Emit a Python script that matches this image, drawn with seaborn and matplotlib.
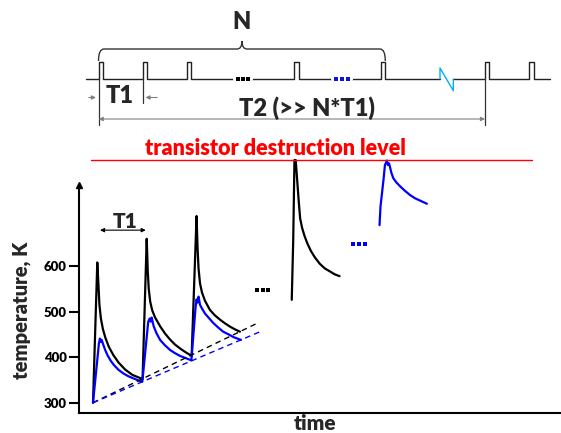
import numpy as np
import pandas as pd
import matplotlib
matplotlib.use("Agg")
import matplotlib.pyplot as plt
from matplotlib.path import Path
from matplotlib.patches import PathPatch
import seaborn as sns

# --- DATA (time in units of T1, temperature in K) ---
black_t = [0, 0.087, 0.11, 0.13, 0.16, 0.2, 0.25, 0.32, 0.41, 0.52, 0.65, 0.8, 1.005,
           1.089, 1.11, 1.13, 1.16, 1.2, 1.26, 1.36, 1.46, 1.56, 1.66, 1.78, 1.89, 2.0,
           2.10, 2.12, 2.14, 2.17, 2.21, 2.27, 2.37, 2.47, 2.58, 2.68, 2.78, 2.88, 2.98]
black_T = [300, 608, 560, 515, 485, 462, 443, 423, 405, 388, 373, 361, 352,
           660, 590, 550, 522, 503, 487, 468, 452, 439, 428, 418, 410, 403,
           710, 640, 595, 562, 542, 524, 504, 492, 482, 474, 467, 461, 456]

blue_t = [0, 0.12, 0.14, 0.16, 0.175, 0.21, 0.25, 0.3, 0.36, 0.43, 0.52, 0.62, 0.72, 0.83, 0.92, 1.0,
          1.12, 1.15, 1.17, 1.19, 1.23, 1.29, 1.36, 1.46, 1.56, 1.66, 1.76, 1.88, 1.995,
          2.08, 2.10, 2.12, 2.14, 2.17, 2.22, 2.27, 2.35, 2.44, 2.54, 2.64, 2.75, 2.85, 3.0]
blue_T = [300, 430, 441, 434, 438, 427, 415, 403, 392, 382, 372, 364, 358, 353, 349, 346,
          478, 485, 478, 487, 468, 452, 438, 426, 416, 409, 403, 398, 393,
          510, 527, 520, 533, 515, 505, 496, 486, 475, 465, 456, 450, 444, 438]

black_last_t = [4.03, 4.06, 4.085, 4.11, 4.13, 4.17, 4.2, 4.24, 4.29, 4.35, 4.42, 4.5, 4.6, 4.7,
                4.81, 4.9, 5.0]
black_last_T = [526, 657, 833, 833, 804, 745, 705, 684, 666, 649, 633, 619, 605, 595,
                588, 582, 578]

blue_last_t = [5.81, 5.83, 5.86, 5.89, 5.92, 5.96, 5.98, 6.0, 6.02, 6.05, 6.09, 6.15, 6.23,
               6.33, 6.43, 6.53, 6.63, 6.77]
blue_last_T = [690, 731, 760, 789, 822, 832, 822, 826, 819, 805, 793, 784, 775,
               765, 756, 749, 744, 737]

trend_black_t = [0, 3.32]
trend_black_T = [300, 474]
trend_blue_t = [0, 3.39]
trend_blue_T = [300, 456]

destruction_T = 833
destruction_t = [-0.04, 8.9]

black_dots_t = [3.33, 3.44, 3.55]
black_dots_T = [548, 548, 548]
blue_dots_t = [5.27, 5.40, 5.52]
blue_dots_T = [649, 649, 649]

yticks = [300, 400, 500, 600]

# top pulse-train sketch (in sketch units)
pulse_starts = [98.7, 142.7, 186.7, 294.3, 381.0, 485.0, 529.3]
pulse_width = 4.3
gaps = [(235.7, 250.0, "black"), (334.0, 350.0, "blue")]

sns.set_theme(style="white")
plt.rcParams['font.family'] = ['Lato', 'DejaVu Sans']
W = "heavy"

fig = plt.figure(figsize=(5.61, 4.33), dpi=100)

# --- overlay for the sketch on top ---
top = fig.add_axes([0, 0, 1, 1])
top.set_xlim(0, 561)
top.set_ylim(433, 0)
top.axis("off")

base_y, high_y = 79, 62
xs, ys = [86], [base_y]
for p in pulse_starts[:5]:
    xs += [p, p, p + pulse_width, p + pulse_width]
    ys += [base_y, high_y, high_y, base_y]
xs.append(440)
ys.append(base_y)
top.plot(xs, ys, color="#222222", lw=1.0)
xs2, ys2 = [453.3], [base_y]
for p in pulse_starts[5:]:
    xs2 += [p, p, p + pulse_width, p + pulse_width]
    ys2 += [base_y, high_y, high_y, base_y]
xs2.append(550)
ys2.append(base_y)
top.plot(xs2, ys2, color="#222222", lw=1.0)
# dots replace the baseline
for g0, g1, c in gaps:
    top.plot([g0 - 1, g1 + 1], [base_y, base_y], color="white", lw=3)
    top.scatter(np.linspace(g0 + 2, g1 - 2, 3), [base_y] * 3, s=7, marker="s", lw=0,
                color="black" if c == "black" else "#1010e0", zorder=5)
# break symbol
top.plot([440, 440, 453.3, 453.3], [base_y, 68, 90.7, base_y], color="#00b0f0", lw=1.0)

# brace over N pulses
verts = [(98.5, 61), (98.5, 49), (104, 49), (237, 49), (242, 49), (242, 41),
         (242, 49), (247, 49), (380, 49), (385.3, 49), (385.3, 61)]
codes = [Path.MOVETO, Path.CURVE3, Path.CURVE3, Path.LINETO, Path.CURVE3, Path.CURVE3,
         Path.CURVE3, Path.CURVE3, Path.LINETO, Path.CURVE3, Path.CURVE3]
top.add_patch(PathPatch(Path(verts, codes), fill=False, ec="#333333", lw=1.0))
top.text(242, 22, "N", fontsize=17, fontweight=W, ha="center", va="center")

# T1 and T2 dimension marks
gray = "#808080"
top.plot([98.7, 98.7], [base_y, 125], color="#333333", lw=0.9)
top.plot([142.7, 142.7], [base_y, 103], color="#333333", lw=0.9)
top.plot([485, 485], [base_y, 125], color="#333333", lw=0.9)
top.annotate("", xy=(98.7, 97.5), xytext=(86, 97.5),
             arrowprops=dict(arrowstyle="-|>", color=gray, lw=0.8, mutation_scale=6))
top.annotate("", xy=(142.7, 97.5), xytext=(160, 97.5),
             arrowprops=dict(arrowstyle="-|>", color=gray, lw=0.8, mutation_scale=6))
top.annotate("", xy=(98.7, 119), xytext=(485, 119),
             arrowprops=dict(arrowstyle="<|-|>", color=gray, lw=0.8, mutation_scale=6,
                             shrinkA=0, shrinkB=0))
top.text(120, 96, "T1", fontsize=17, fontweight=W, ha="center", va="center")
top.text(307, 108, "T2 (>> N*T1)", fontsize=17, fontweight=W, ha="center", va="center")

# --- temperature plot ---
ax = fig.add_axes([79 / 561, 20 / 433, 482 / 561, 273 / 433])
ax.patch.set_alpha(0)
ax.set_xlim(-0.284, 9.49)
ax.set_ylim(277.4, 877)

df_black = pd.DataFrame({"t": black_t, "T": black_T})
df_blue = pd.DataFrame({"t": blue_t, "T": blue_T})
sns.lineplot(data=df_black, x="t", y="T", estimator=None, sort=False, color="black", lw=1.6, ax=ax)
sns.lineplot(data=df_blue, x="t", y="T", estimator=None, sort=False, color="#0000ff", lw=1.6, ax=ax)
sns.lineplot(x=black_last_t, y=black_last_T, estimator=None, sort=False, color="black", lw=1.6,
             ax=ax, clip_on=False)
sns.lineplot(x=blue_last_t, y=blue_last_T, estimator=None, sort=False, color="#0000ff", lw=1.6,
             ax=ax, clip_on=False)
ax.plot(trend_black_t, trend_black_T, color="black", lw=1.0, ls=(0, (4, 3)))
ax.plot(trend_blue_t, trend_blue_T, color="#0000ff", lw=1.0, ls=(0, (4, 3)))
ax.plot(destruction_t, [destruction_T] * 2, color="#ff0000", lw=1.0, clip_on=False)
ax.text(3.69, 843, "transistor destruction level", color="#ff0000", fontsize=15.5,
        fontweight=W, ha="center", va="baseline")
ax.scatter(black_dots_t, black_dots_T, s=5, marker="s", lw=0, color="black")
ax.scatter(blue_dots_t, blue_dots_T, s=5, marker="s", lw=0, color="#0000ff")

# T1 marker
ax.annotate("", xy=(0.142, 679), xytext=(1.07, 679),
            arrowprops=dict(arrowstyle="<|-|>", color="black", lw=0.8, mutation_scale=6,
                            shrinkA=0, shrinkB=0))
ax.text(0.65, 699, "T1", fontsize=15, fontweight=W, ha="center", va="center")

# axes
for s in ["top", "right"]:
    ax.spines[s].set_visible(False)
for s in ["left", "bottom"]:
    ax.spines[s].set_color("black")
    ax.spines[s].set_linewidth(1.5)
ax.spines["left"].set_bounds(277.4, 776)
ax.plot([-0.284], [778.5], marker="^", ms=5, color="black", clip_on=False)
ax.set_yticks(yticks)
ax.set_xticks([])
ax.tick_params(axis="y", left=True, length=7.5, width=1.5, pad=1.5, labelsize=9.5, colors="black")
for lab in ax.get_yticklabels():
    lab.set_fontweight(W)
ax.set_xlabel("")
ax.set_ylabel("")
fig.text(22 / 561, 1 - 310 / 433, "temperature, K", rotation=90, fontsize=14.5,
         fontweight=W, ha="center", va="center")
fig.text(315 / 561, 1 - 424 / 433, "time", fontsize=15, fontweight=W,
         ha="center", va="center")

fig.savefig("out.png", dpi=100)
